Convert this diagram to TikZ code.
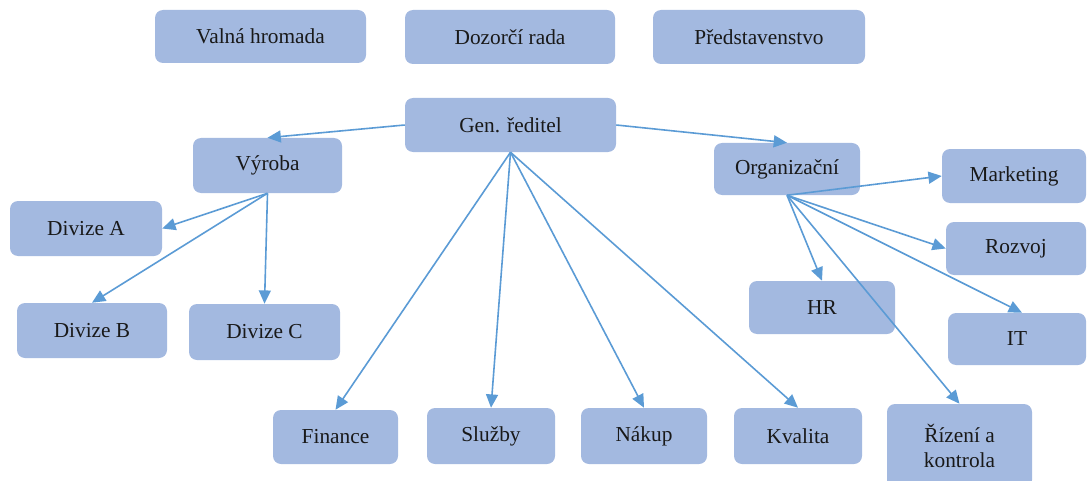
\documentclass[tikz,border=0pt]{standalone}
\usepackage{fontspec}
\setmainfont{Liberation Serif}
\usetikzlibrary{arrows.meta}
\definecolor{boxfill}{HTML}{A3B9E0}
\definecolor{linkblue}{HTML}{5B9BD5}
\begin{document}
\begin{tikzpicture}[x=0.75pt,y=-0.75pt,
  unit/.style={draw=none, fill=boxfill, rounded corners=6pt, inner sep=0pt,
    text=black!90, font=\rmfamily\fontsize{16}{18.75}\selectfont, align=center},
  link/.style={draw=linkblue, line width=1.2pt,
    -{Triangle[length=10pt,width=9pt]}}]
\useasboundingbox (0,0) rectangle (1087,481);
\clip (0,0) rectangle (1087,481);
% unit: name, centre, width, height, label
\newcommand{\unitbox}[6]{\node[unit, minimum width=#4*0.75pt, minimum height=#5*0.75pt] (#1) at (#2,#3) {#6};}
% governing bodies
\unitbox{vh}{260.5}{36.5}{211}{53}{Valná hromada}
\unitbox{dr}{510}{37}{210}{54}{Dozorčí rada}
\unitbox{ps}{759}{37}{212}{54}{Představenstvo}
% management
\unitbox{gen}{510.5}{125}{211}{54}{Gen. ředitel}
\unitbox{vyr}{267.5}{165.5}{149}{55}{Výroba}
\unitbox{org}{787}{169}{146}{52}{Organizační}
% production divisions
\unitbox{dA}{86}{228.5}{152}{55}{Divize A}
\unitbox{dB}{92}{330.5}{150}{55}{Divize B}
\unitbox{dC}{264.5}{332}{151}{56}{Divize C}
% organisational units
\unitbox{mk}{1014}{176}{144}{54}{Marketing}
\unitbox{rz}{1016}{248.5}{140}{53}{Rozvoj}
\unitbox{hr}{822}{307.5}{146}{53}{HR}
\unitbox{it}{1017}{339}{138}{52}{IT}
\unitbox{rk}{959.5}{446}{145}{84}{Řízení a\\kontrola}
% departments under the general director
\unitbox{fin}{335.5}{437}{125}{54}{Finance}
\unitbox{slu}{491}{436}{128}{56}{Služby}
\unitbox{nak}{644}{436}{126}{56}{Nákup}
\unitbox{kva}{798}{436}{128}{56}{Kvalita}
% connectors
\draw[link] (gen.west) -- (vyr.north);
\draw[link] (gen.east) -- (org.north);
\draw[link] (gen.south) -- (fin.north);
\draw[link] (gen.south) -- (slu.north);
\draw[link] (gen.south) -- (nak.north);
\draw[link] (gen.south) -- (kva.north);
\draw[link] (vyr.south) -- (dA.east);
\draw[link] (vyr.south) -- (dB.north);
\draw[link] (vyr.south) -- (dC.north);
\draw[link] (org.south) -- (mk.west);
\draw[link] (org.south) -- (rz.west);
\draw[link] (org.south) -- (hr.north);
\draw[link] (org.south) -- ([xshift=3.75pt]it.north);
\draw[link] (org.south) -- (rk.north);
\end{tikzpicture}
\end{document}
